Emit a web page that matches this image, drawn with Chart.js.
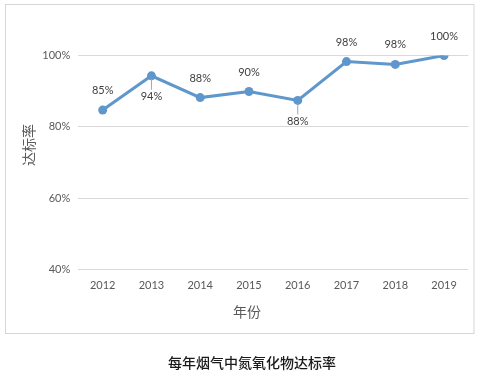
<!DOCTYPE html>
<html>
<head>
<meta charset="utf-8">
<script src="https://cdn.jsdelivr.net/npm/chart.js@4"></script>
<style>
  html, body { margin: 0; padding: 0; background: #fff; }
  #wrap { position: relative; width: 485px; height: 374px; }
</style>
</head>
<body>
<div id="wrap"><canvas id="myChart" width="485" height="374"></canvas></div>
<script>
// data
const years = ["2012", "2013", "2014", "2015", "2016", "2017", "2018", "2019"];
const rates = [84.7, 94.3, 88.2, 89.9, 87.4, 98.3, 97.5, 100];
const rateLabels = ["85%", "94%", "88%", "90%", "88%", "98%", "98%", "100%"];
const yTicks = [40, 60, 80, 100];

const chartTitle = "每年烟气中氮氧化物达标率";
const xTitle = "年份";
const yTitle = "达标率";

// where each value label sits relative to its point
const labelSide = ["up", "down", "up", "up", "down", "up", "up", "up"];

const lineColor = "#5f97cc";

const extras = {
  id: "extras",
  afterDraw(chart) {
    const ctx = chart.ctx;
    const meta = chart.getDatasetMeta(0);
    ctx.save();

    // outer frame
    ctx.strokeStyle = "#d6d6d6";
    ctx.lineWidth = 1;
    ctx.strokeRect(5.5, 4.5, 468.5, 329);

    // point labels
    ctx.font = "11px Lato";
    ctx.fillStyle = "#404040";
    ctx.textAlign = "center";
    ctx.textBaseline = "middle";
    meta.data.forEach((pt, i) => {
      const down = labelSide[i] === "down";
      const ly = down ? pt.y + 21 : pt.y - 19.5;
      if (down) {
        ctx.strokeStyle = "#a6a6a6";
        ctx.beginPath();
        ctx.moveTo(pt.x, pt.y + 3);
        ctx.lineTo(pt.x, ly - 7);
        ctx.stroke();
      }
      ctx.fillText(rateLabels[i], pt.x, ly);
    });

    // axis titles
    ctx.fillStyle = "#595959";
    ctx.font = "14px 'Noto Sans CJK SC'";
    ctx.fillText(xTitle, 247, 312);
    ctx.save();
    ctx.translate(29, 145);
    ctx.rotate(-Math.PI / 2);
    ctx.fillText(yTitle, 0, 0);
    ctx.restore();

    // caption under the frame
    ctx.fillStyle = "#1a1a1a";
    ctx.font = "500 14px 'Noto Sans CJK SC'";
    ctx.fillText(chartTitle, 252, 363);

    ctx.restore();
  }
};

new Chart("myChart", {
  type: "line",
  data: {
    labels: years,
    datasets: [{
      data: rates,
      borderColor: lineColor,
      backgroundColor: lineColor,
      borderWidth: 3,
      pointRadius: 4.5,
      pointBorderWidth: 0,
      pointBackgroundColor: lineColor,
      tension: 0
    }]
  },
  options: {
    responsive: false,
    animation: false,
    layout: {
      padding: { left: 0, top: 55.5, right: 16.6, bottom: 74.5 }
    },
    plugins: {
      legend: { display: false },
      tooltip: { enabled: false }
    },
    scales: {
      x: {
        offset: true,
        grid: { display: false, drawTicks: false },
        border: { display: false },
        ticks: { color: "#595959", font: { family: "Lato", size: 11 }, padding: 9 },
        afterFit: s => { s.height = 30; }
      },
      y: {
        min: 40,
        max: 100,
        grid: { color: "#d9d9d9", drawTicks: false },
        border: { display: false },
        afterBuildTicks: s => { s.ticks = yTicks.map(v => ({ value: v })); },
        ticks: {
          color: "#595959",
          font: { family: "Lato", size: 11 },
          padding: 8,
          callback: v => v + "%"
        },
        afterFit: s => { s.width = 78.3; }
      }
    }
  },
  plugins: [extras]
});
</script>
</body>
</html>
